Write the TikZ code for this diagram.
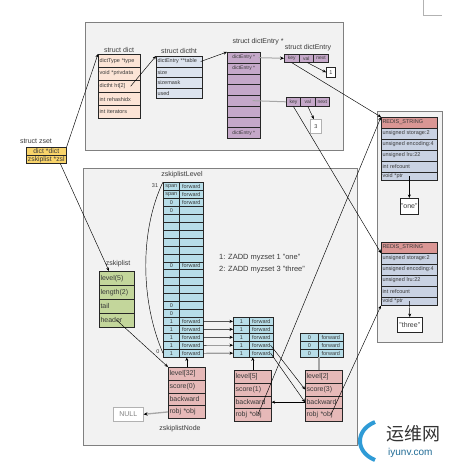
\documentclass[tikz,border=0pt]{standalone}
\usepackage{fontspec}
\setmainfont{Liberation Sans}
\newfontfamily\cjkfont{Noto Sans CJK SC}
\usetikzlibrary{arrows.meta}
\definecolor{panel}{HTML}{F2F2F2}
\definecolor{panelb}{HTML}{808080}
\definecolor{peach}{HTML}{FCE4D6}
\definecolor{steel}{HTML}{DCE3EE}
\definecolor{mauve}{HTML}{C5A8C9}
\definecolor{lblue}{HTML}{B7DDE8}
\definecolor{lgreen}{HTML}{C3D69B}
\definecolor{lpink}{HTML}{E6B9B8}
\definecolor{rred}{HTML}{DA9694}
\definecolor{rblue}{HTML}{C9D2E3}
\definecolor{gold}{HTML}{F9D46A}
\definecolor{txt}{HTML}{3A3A3A}
\definecolor{wmblue}{HTML}{2F9BD6}
\tikzset{
  box/.style={draw=black!85, line width=0.6pt, inner sep=0pt, anchor=north west, text=txt},
  lbox/.style={box, align=left, inner xsep=1.2pt},
  ffive/.style={font=\fontsize{5}{5.5}\selectfont},
  fsmall/.style={font=\fontsize{5.5}{6}\selectfont},
  fseven/.style={font=\fontsize{7}{8}\selectfont},
  lab/.style={text=txt, inner sep=0pt, font=\fontsize{7}{8}\selectfont},
  arr/.style={-{Stealth[length=3.5pt,width=3pt]}, line width=0.45pt, draw=black},
  garr/.style={-{Stealth[length=4pt,width=3.5pt,color=black]}, line width=1.3pt, draw=gray!70},
  panelbox/.style={fill=panel, draw=panelb, line width=0.8pt},
}
\begin{document}
\begin{tikzpicture}[x=1pt,y=-1pt]
\path[use as bounding box] (0,0) rectangle (462,463);
\fill[white] (0,0) rectangle (462,463);
% panels
\draw[panelbox] (85,22) rectangle (343,150);
\draw[panelbox] (83,168) rectangle (357,445);
\draw[panelbox] (377,111) rectangle (442,342);
\draw[gray!60, line width=0.6pt] (423,0) -- (423,15) -- (442,15);

% zset
\node[lab] (zsetlab) at (36,141) {struct zset};
\node[box, font=\fontsize{6.8}{7}\selectfont, fill=gold, minimum height=8, minimum width=40] (zs1) at (26,147) {dict *dict};
\node[box, font=\fontsize{6.8}{7}\selectfont, fill=gold, minimum height=8, minimum width=40] (zs2) at (26,155) {zskiplist *zsl};

% struct dict
\node[lab] (dictlab) at (119,50) {struct dict};
\foreach \t [count=\i] in {{dictType *type},{void *privdata},{dictht ht[2]},{int rehashidx},{int iterators}}
  \node[lbox,fsmall,fill=peach,minimum height=12.8,text width=39.6] (dict\i) at (98,{54+(\i-1)*12.8}) {\t};

% struct dictht
\node[lab] (htlab) at (179,51) {struct dictht};
\foreach \t [count=\i] in {{dictEntry **table},size,sizemask,used}
  \node[lbox,fsmall,fill=steel,minimum height=10.5,text width=43.6] (ht\i) at (156,{56+(\i-1)*10.5}) {\t};

% dictEntry * array
\node[lab] (arrlab) at (258,42) {struct dictEntry *};
\foreach \t [count=\i] in {{dictEntry *},{dictEntry *},{},{},{},{},{},{dictEntry *}}
  \node[box,ffive,fill=mauve,minimum height=10.75,minimum width=33] (da\i) at (227,{52+(\i-1)*10.75}) {\t};

% dict entries
\node[lab] (e1lab) at (308,48) {struct dictEntry};
\foreach \t [count=\i] in {key,val,next}
  \node[box,ffive,fill=mauve,minimum height=8,minimum width=14.7] (ea\i) at ({284+(\i-1)*14.7},54) {\t};
\foreach \t [count=\i] in {key,val,next}
  \node[box,ffive,fill=mauve,minimum height=9,minimum width=14.4] (eb\i) at ({286+(\i-1)*14.4},97) {\t};
\node[box,fsmall,fill=white,minimum width=9,minimum height=10] (num1) at (326,67) {1};
\node[box,fsmall,fill=white,draw=gray!60,minimum width=11,minimum height=14] (num3) at (310,119) {3};

% top arrows
\draw[arr] (zs1.north east) -- (dict1.north west);
\draw[arr] ([xshift=-10pt]dict3.east) -- (ht1.north west);
\draw[arr] ([xshift=-2pt]ht1.east) -- (da1.north west);
\draw[garr, line width=1pt] ([xshift=-2pt]da1.east) -- (ea1.west);
\draw[gray!70, line width=1pt] ([xshift=-8pt]da5.east) -- (eb1.west);
\draw[arr] ([xshift=1pt]ea2.south) -- (num1.west);
\draw[arr] (eb2.south) -- ([xshift=-2pt]num3.north);

% redis objects
\foreach \b/\s in {ra/117, rb/242} {
  \node[lbox,fsmall,fill=rred,minimum height=10.5,text width=53.6] (\b0) at (381,\s) {REDIS\_STRING};
  \foreach \t [count=\i] in {{unsigned storage:2},{unsigned encoding:4},{unsigned lru:22},{int refcount}}
    \node[lbox,fsmall,fill=rblue,minimum height=11,text width=53.6] (\b\i) at (381,{\s+10.5+(\i-1)*11}) {\t};
  \node[lbox,fsmall,fill=rblue,minimum height=8.5,text width=53.6] (\b5) at (381,{\s+54.5}) {void *ptr};
}
\node[box,fseven,fill=white,minimum width=18,minimum height=16] (sone) at (400,198) {"one"};
\node[box,fseven,fill=white,minimum width=25,minimum height=15] (sthree) at (397,317) {"three"};
\draw[arr] (ra5.center) -- (sone.north);
\draw[arr] (rb5.center) -- (sthree.north);

% zskiplist
\node[lab] (zsllab) at (118,264) {zskiplist};
\foreach \t [count=\i] in {{level(5)},{length(2)},tail,header}
  \node[lbox,fseven,fill=lgreen,minimum height=14,text width=32.6] (zl\i) at (99,{271+(\i-1)*14}) {\t};

% header levels
\node[lab] (levlab) at (182,175) {zskiplistLevel};
\foreach \i in {1,...,22} {
  \node[box,fsmall,fill=lblue,minimum width=16,minimum height=7.95] (hl\i) at (163,{182+(\i-1)*7.95}) {};
  \node[box,fsmall,fill=lblue,minimum width=24,minimum height=7.95] (hr\i) at (179,{182+(\i-1)*7.95}) {};
}
\foreach \i/\t in {1/span,2/span,3/0,4/0,11/0,16/0,17/0,18/1,19/1,20/1,21/1,22/1}
  \node[lab,fsmall] (hlt\i) at (hl\i) {\t};
\foreach \i in {1,2,3,11,18,19,20,21,22}
  \node[lab,fsmall] (hrt\i) at (hr\i) {forward};
\node[lab,fsmall] (i31) at (155,186) {31};
\node[lab,fsmall] (i0) at (158,352) {0};
\draw[line width=0.45pt] (hl1.north west) .. controls (140,230) and (140,300) .. (hl22.west);

% level[5] levels
\foreach \i in {1,...,5} {
  \node[box,fsmall,fill=lblue,minimum width=16,minimum height=7.95] (lbl\i) at (233,{317.1+(\i-1)*7.95}) {1};
  \node[box,fsmall,fill=lblue,minimum width=24,minimum height=7.95] (lbr\i) at (249,{317.1+(\i-1)*7.95}) {forward};
}
% level[2] levels
\foreach \i in {1,...,3} {
  \node[box,fsmall,fill=lblue,minimum width=18,minimum height=7.95] (lcl\i) at (300,{333+(\i-1)*7.95}) {0};
  \node[box,fsmall,fill=lblue,minimum width=25,minimum height=7.95] (lcr\i) at (318,{333+(\i-1)*7.95}) {forward};
}

% skiplist nodes
\foreach \t [count=\i] in {{level[32]},{score(0)},backward,{robj *obj}}
  \node[lbox,fseven,fill=lpink,minimum height=12.75,text width=34.6] (na\i) at (168,{367+(\i-1)*12.75}) {\t};
\foreach \t [count=\i] in {{level[5]},{score(1)},backward,{robj *obj}}
  \node[lbox,fseven,fill=lpink,minimum height=12.75,text width=34.6] (nb\i) at (234,{370+(\i-1)*12.75}) {\t};
\foreach \t [count=\i] in {{level[2]},{score(3)},backward,{robj *obj}}
  \node[lbox,fseven,fill=lpink,minimum height=12.75,text width=34.6] (nc\i) at (305,{370+(\i-1)*12.75}) {\t};
\node[lab] (znlab) at (180,429) {zskiplistNode};
\node[box,fseven,fill=white,draw=gray!60,text=gray,minimum width=30,minimum height=14] (null) at (113,407) {NULL};

% commands
\node[lab,anchor=west,font=\fontsize{7.5}{8}\selectfont] (cmd1) at (219,258) {1: ZADD myzset 1 "one"};
\node[lab,anchor=west,font=\fontsize{7.5}{8}\selectfont] (cmd2) at (219,270) {2: ZADD myzset 3 "three"};

% lower arrows
\draw[arr] ([xshift=14pt]zs2.south) -- ([xshift=10pt]zl1.north west);
\draw[arr] (zl4.center) -- (na1.north west);
\foreach \k [count=\j] in {18,...,22}
  \draw[arr] (hr\k.east) -- (lbl\j.west);
\draw[arr] (na1.north) -- (na1.north |- hr22.south);
\draw[arr] (nb1.north) -- (nb1.north |- lbr5.south);
\coordinate (ctop) at ([xshift=-5pt]nc1.north);
\draw[gray!70, line width=1.6pt] (ctop) -- (ctop |- lcr3.south);
\draw[arr] ([xshift=-3pt]lbr4.east) -- (nc2.west);
\draw[arr] ([xshift=-3pt]lbr5.east) -- (nc3.west);
\draw[arr] (nc3.west) -- (nb3.east);
\draw[garr] (na4.west) -- (null.east);

% long links to redis objects
\draw[arr] (ea1.south) -- (ra0.north west);
\draw[arr] ([xshift=5pt]nb4.center) -- (ra0.north west);
\draw[arr] (eb1.south) -- (rb0.south west);
\draw[arr] ([xshift=7pt]nc4.center) -- (rb5.south west);

% watermark
\draw[line width=4pt, color=wmblue] (375,422) .. controls (355,430) and (355,452) .. (375,460);
\node[font=\cjkfont\fontsize{18}{19}\selectfont, text=black!80, anchor=west, inner sep=0pt] (wm1) at (386,434) {运维网};
\node[font=\fontsize{10}{11}\selectfont, text=wmblue!70!black, anchor=west, inner sep=0pt] (wm2) at (388,453) {iyunv.com};
\end{tikzpicture}
\end{document}
